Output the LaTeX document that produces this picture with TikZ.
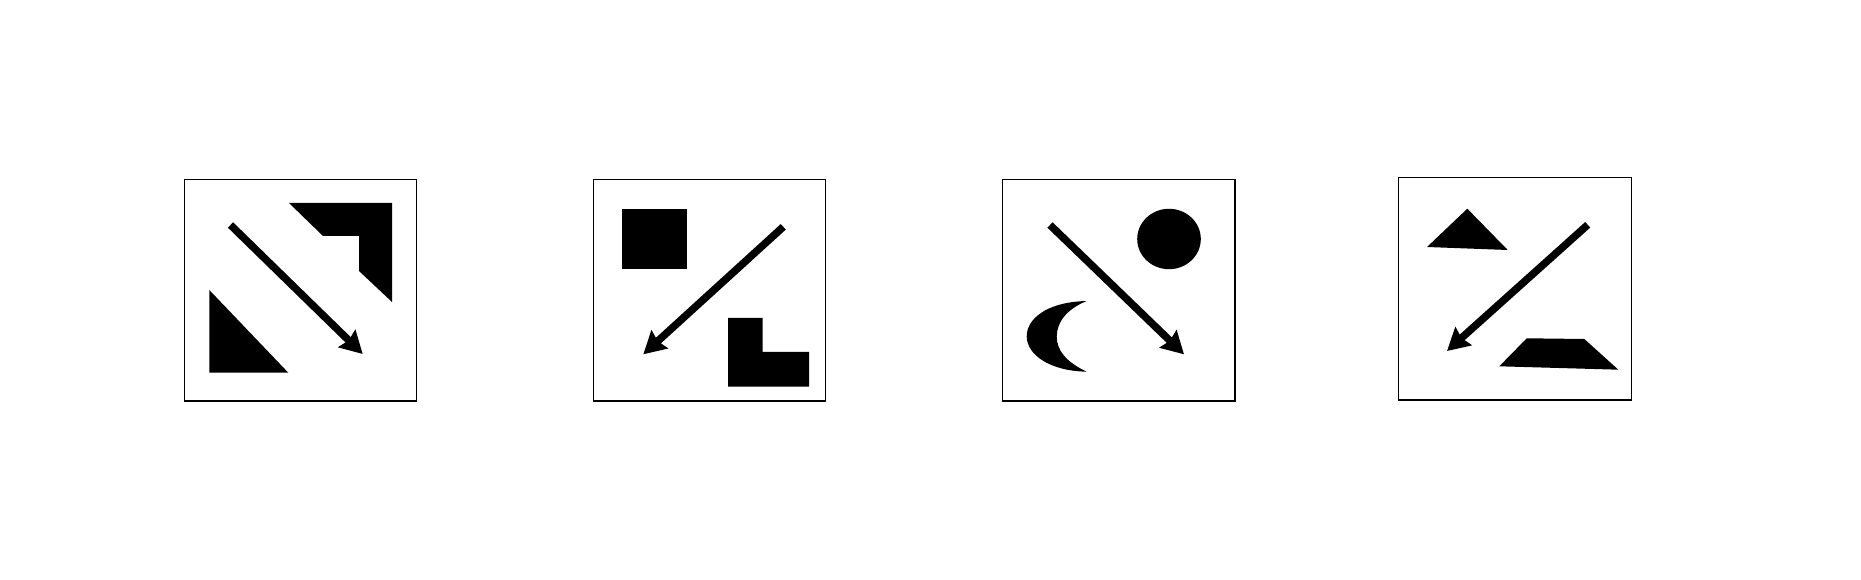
\documentclass[tikz,border=0pt]{standalone}
\usetikzlibrary{arrows.meta}
\begin{document}
\begin{tikzpicture}[x=0.02cm,y=-0.02cm,
  panel/.style={draw=black,line width=0.6pt},
  blackfill/.style={fill=black},
  bigarrow/.style={line width=0.15cm,line cap=butt,-{Stealth[length=0.44cm,width=0.48cm,inset=0.05cm]}}]
\useasboundingbox (0,0) rectangle (1861,580);
% panel 1
\draw[panel] (184.3,179.3) rectangle (416.7,401);
\fill[blackfill] (289,203) -- (392,203) -- (392,302) -- (359,271) -- (359,236) -- (323,236) -- cycle;
\fill[blackfill] (209.3,290) -- (209.3,372.7) -- (288.3,372.7) -- cycle;
\coordinate (a1s) at (230.5,225);
\coordinate (a1e) at (362.7,354);
\draw[bigarrow] (a1s) -- (a1e);
% panel 2
\draw[panel] (593.3,179.3) rectangle (825.7,401);
\fill[blackfill] (622,209) rectangle (686.7,269.3);
\fill[blackfill] (728,318) -- (762.7,318) -- (762.7,352) -- (809,352) -- (809,386.7) -- (728,386.7) -- cycle;
\coordinate (a2s) at (783.3,226.8);
\coordinate (a2e) at (643.3,354.3);
\draw[bigarrow] (a2s) -- (a2e);
% panel 3
\draw[panel] (1002.7,179.3) rectangle (1235,401);
\fill[blackfill] (1169,239) ellipse [x radius=31.8, y radius=30.2];
\fill[blackfill] (1086.7,301) .. controls (1045,302) and (1026.5,320) .. (1026.7,336.5)
  .. controls (1027,355) and (1050,371) .. (1086.7,371.7)
  .. controls (1066,362) and (1056.7,350) .. (1056.7,336.7)
  .. controls (1056.7,322) and (1067,309) .. (1086.7,301) -- cycle;
\coordinate (a3s) at (1050,225);
\coordinate (a3e) at (1184,354.3);
\draw[bigarrow] (a3s) -- (a3e);
% panel 4
\draw[panel] (1398.3,177.3) rectangle (1631.7,400);
\fill[blackfill] (1467.3,208.7) -- (1507.7,250) -- (1427,247) -- cycle;
\fill[blackfill] (1526.7,338.3) -- (1584.3,339) -- (1618.3,369.7) -- (1499.3,366.3) -- cycle;
\coordinate (a4s) at (1587.7,224.8);
\coordinate (a4e) at (1447,351);
\draw[bigarrow] (a4s) -- (a4e);
\end{tikzpicture}
\end{document}
